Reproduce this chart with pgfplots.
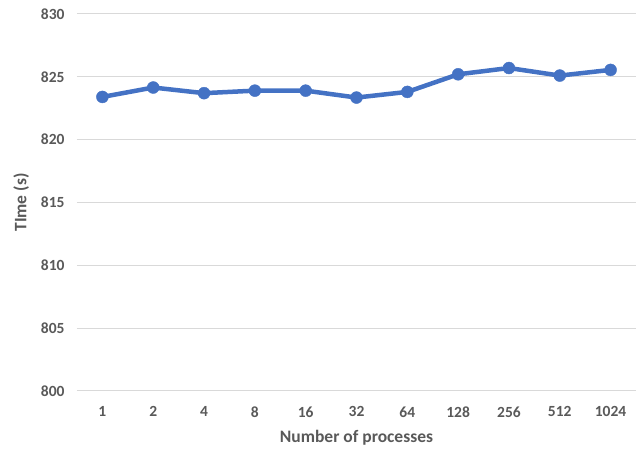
\documentclass[border=0pt]{standalone}
\usepackage{pgfplots}
\pgfplotsset{compat=1.18}
\usepackage{fontspec}
\setmainfont{Carlito}
\definecolor{txt}{HTML}{595959}
\definecolor{gridc}{HTML}{D9D9D9}
\definecolor{linec}{HTML}{4472C4}
\begin{document}
\begin{tikzpicture}
\begin{axis}[
  scale only axis,
  width=559pt, height=377pt,
  xmin=-0.5, xmax=10.5,
  ymin=800, ymax=830,
  ytick={800,805,...,830},
  xtick=data,
  xticklabels={1,2,4,8,16,32,64,128,256,512,1024},
  axis line style={draw=none},
  major tick length=0pt,
  xmajorgrids=false,
  ymajorgrids=true,
  major grid style={draw=gridc, line width=1pt},
  /pgf/number format/assume math mode=true,
  ticklabel style={font=\fontsize{15.5}{18}\selectfont\bfseries, text=txt},
  yticklabel style={xshift=-9pt},
  xticklabel style={yshift=-12pt},
  xlabel={Number of processes},
  ylabel={TIme (s)},
  label style={font=\fontsize{17.5}{20}\selectfont\bfseries, text=txt},
  xlabel style={yshift=-6pt},
  ylabel style={yshift=5pt},
]
\addplot[linec, line width=4.5pt, mark=*, mark size=6pt, mark options={solid, fill=linec, draw=linec, line width=0.4pt}]
coordinates {(0,823.4) (1,824.15) (2,823.7) (3,823.9) (4,823.9) (5,823.35) (6,823.8) (7,825.2) (8,825.7) (9,825.1) (10,825.55)};
\end{axis}
\pgfresetboundingbox
\path ([shift={(-77pt,-60pt)}]current axis.south west) rectangle ([shift={(6pt,14pt)}]current axis.north east);
\end{tikzpicture}
\end{document}
